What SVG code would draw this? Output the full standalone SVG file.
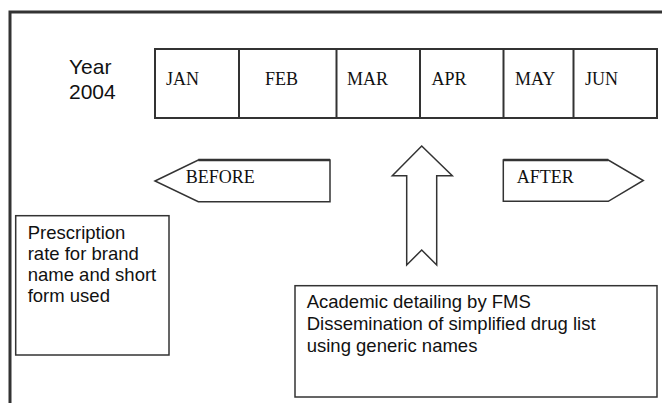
<svg xmlns="http://www.w3.org/2000/svg" width="662" height="403" viewBox="0 0 662 403">
<style>
.line{fill:#fff;stroke:#333;stroke-width:1.5}
.mon{fill:none;stroke:#333;stroke-width:2}
.sans{font-family:"Liberation Sans",Arial,sans-serif;fill:#111}
.serif{font-family:"Liberation Serif","Times New Roman",serif;font-size:18px;fill:#111}
.thick{stroke:#333;stroke-width:2.6;fill:none}
</style>
<rect width="662" height="403" fill="#fff"/>
<rect id="frame" x="10" y="12" width="700" height="500" fill="none" stroke="#333" stroke-width="3"/>
<g id="year">
<text class="sans" font-size="21" x="69" y="74">Year</text>
<text class="sans" font-size="21" x="69" y="99">2004</text>
</g>
<g id="months">
<rect class="mon" x="155" y="49" width="502" height="69"/>
<line class="mon" x1="239" y1="49" x2="239" y2="118"/>
<line class="mon" x1="336.5" y1="49" x2="336.5" y2="118"/>
<line class="mon" x1="420" y1="49" x2="420" y2="118"/>
<line class="mon" x1="503.5" y1="49" x2="503.5" y2="118"/>
<line class="mon" x1="573.5" y1="49" x2="573.5" y2="118"/>
<text class="serif" x="166" y="85">JAN</text>
<text class="serif" x="265" y="85">FEB</text>
<text class="serif" x="347" y="85">MAR</text>
<text class="serif" x="431.5" y="85">APR</text>
<text class="serif" x="515" y="85">MAY</text>
<text class="serif" x="585" y="85">JUN</text>
</g>
<g id="connectors">
<g id="before">
<polygon class="line" points="155,181 198.3,160 330,160 330,201.7 198.3,201.7"/>
<line class="thick" x1="198.3" y1="160" x2="330" y2="160"/>
<text class="serif" x="185.7" y="182.7">BEFORE</text>
</g>
<g id="up-arrow">
<polygon class="line" points="421.7,146 452.3,175.7 436.7,175.7 436.7,265 421.7,250 406.7,265 406.7,175.7 392.3,175.7"/>
</g>
<g id="after">
<polygon class="line" points="503.3,160 608.3,160 643.3,180.5 608.3,201.3 503.3,201.3"/>
<line class="thick" x1="503.3" y1="160" x2="608.3" y2="160"/>
<text class="serif" x="516.7" y="182.7">AFTER</text>
</g>
</g>
<g id="prescription">
<rect class="line" x="15.7" y="215.7" width="153.3" height="139.3"/>
<text class="sans" font-size="18.5" x="27.7" y="239">Prescription</text>
<text class="sans" font-size="18.5" x="27.7" y="260">rate for brand</text>
<text class="sans" font-size="18.5" x="27.7" y="281">name and short</text>
<text class="sans" font-size="18.5" x="27.7" y="302">form used</text>
</g>
<g id="academic">
<rect class="line" x="295" y="285.7" width="362" height="111.3"/>
<text class="sans" font-size="18.5" x="306.7" y="308.3">Academic detailing by FMS</text>
<text class="sans" font-size="18.5" x="306.7" y="330">Dissemination of simplified drug list</text>
<text class="sans" font-size="18.5" x="306.7" y="351.5">using generic names</text>
</g>
</svg>
